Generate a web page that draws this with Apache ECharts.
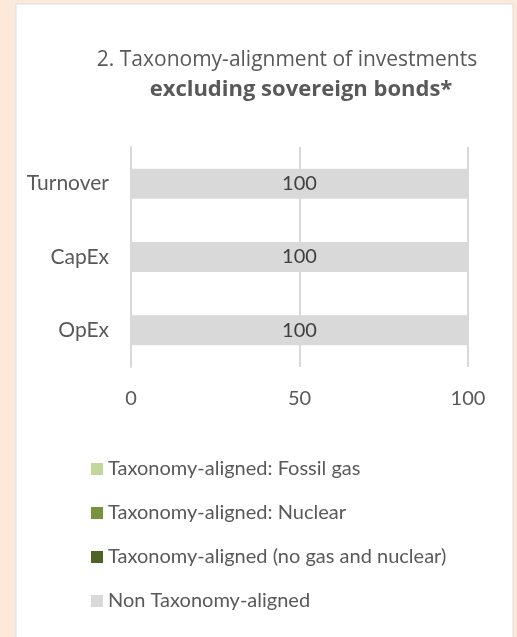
<!DOCTYPE html>
<html>
<head>
<meta charset="utf-8">
<script src="https://cdn.jsdelivr.net/npm/echarts@6/dist/echarts.min.js"></script>
<style>
  html, body { margin: 0; padding: 0; background: #fce9da; }
  #chart { width: 517px; height: 637px; }
</style>
</head>
<body>
<div id="chart"></div>
<script>
// data
const categories = ['Turnover', 'CapEx', 'OpEx'];
const fossilGas = [0, 0, 0];
const nuclear = [0, 0, 0];
const alignedNoGasNuclear = [0, 0, 0];
const nonAligned = [100, 100, 100];
const xTicks = [0, 50, 100];

const textColor = '#595959';
const font = 'Lato';

function makeSeries(name, data, color, showLabel) {
  return {
    name: name,
    type: 'bar',
    stack: 'total',
    barWidth: 30,
    itemStyle: { color: color },
    label: {
      show: showLabel,
      position: 'inside',
      color: '#404040',
      fontFamily: font,
      fontSize: 20
    },
    data: data
  };
}

const chart = echarts.init(document.getElementById('chart'));

const option = {
  backgroundColor: '#fce9da',
  animation: false,
  graphic: [
    {
      type: 'rect',
      silent: true,
      z: -10,
      shape: { x: 16, y: 4, width: 497, height: 640 },
      style: { fill: '#ffffff', stroke: '#dddddd', lineWidth: 1 }
    }
  ],
  title: {
    left: 282,
    top: 41,
    textAlign: 'center',
    text: '{a|2. Taxonomy-alignment of investments}\n{b|excluding sovereign bonds*}',
    textStyle: {
      fontWeight: 'normal',
      rich: {
        a: { fontFamily: 'Open Sans', fontSize: 21, fontWeight: 'normal', color: textColor, lineHeight: 29 },
        b: { fontFamily: 'Open Sans', fontSize: 22, fontWeight: 'bold', color: textColor, lineHeight: 29, padding: [0, 0, 0, 28] }
      }
    }
  },
  grid: {
    left: 131,
    right: 49,
    top: 147,
    bottom: 270,
    containLabel: false
  },
  xAxis: {
    type: 'value',
    min: xTicks[0],
    max: xTicks[xTicks.length - 1],
    interval: 50,
    axisLine: { show: false },
    axisTick: { show: false },
    axisLabel: {
      color: textColor,
      fontFamily: font,
      fontSize: 20,
      margin: 22
    },
    splitLine: { lineStyle: { color: '#d9d9d9', width: 2 } }
  },
  yAxis: {
    type: 'category',
    inverse: true,
    data: categories,
    axisLine: { show: true, lineStyle: { color: '#d9d9d9', width: 2 } },
    axisTick: { show: false },
    axisLabel: {
      color: textColor,
      fontFamily: font,
      fontSize: 21,
      margin: 22
    }
  },
  legend: {
    orient: 'vertical',
    left: 86,
    top: 454,
    itemWidth: 12,
    itemHeight: 12,
    itemGap: 24,
    icon: 'rect',
    textStyle: { color: textColor, fontFamily: font, fontSize: 20 },
    data: [
      'Taxonomy-aligned: Fossil gas',
      'Taxonomy-aligned: Nuclear',
      'Taxonomy-aligned (no gas and nuclear)',
      'Non Taxonomy-aligned'
    ]
  },
  series: [
    makeSeries('Taxonomy-aligned: Fossil gas', fossilGas, '#c3d69b', false),
    makeSeries('Taxonomy-aligned: Nuclear', nuclear, '#77933c', false),
    makeSeries('Taxonomy-aligned (no gas and nuclear)', alignedNoGasNuclear, '#4f6228', false),
    makeSeries('Non Taxonomy-aligned', nonAligned, '#d9d9d9', true)
  ]
};

chart.setOption(option);
</script>
</body>
</html>
